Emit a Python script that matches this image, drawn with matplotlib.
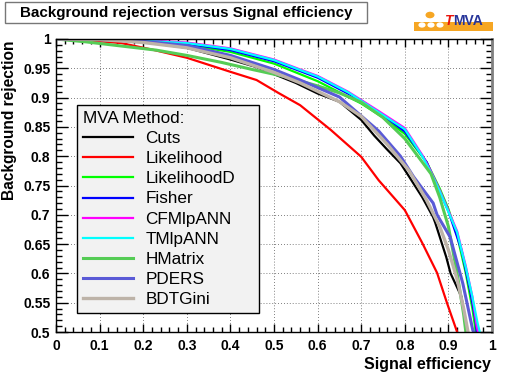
import matplotlib
matplotlib.use('Agg')
from matplotlib import pyplot as plt
from matplotlib.patches import Rectangle, Circle
from matplotlib.ticker import MultipleLocator, FuncFormatter

plt.rcParams['font.family'] = ['Liberation Sans', 'DejaVu Sans']

# signal efficiency / background rejection
cuts_x = [0, 0.1, 0.2, 0.3, 0.4, 0.46, 0.5, 0.55, 0.6, 0.65, 0.7, 0.73, 0.76, 0.79, 0.81, 0.84, 0.865, 0.87, 0.895, 0.905, 0.93, 0.943]
cuts_y = [1, 0.999, 0.995, 0.985, 0.965, 0.952, 0.94, 0.925, 0.907, 0.893, 0.862, 0.835, 0.811, 0.788, 0.765, 0.73, 0.696, 0.686, 0.628, 0.6, 0.56, 0.5]

lik_x = [0, 0.05, 0.15, 0.22, 0.3, 0.4, 0.46, 0.51, 0.56, 0.63, 0.7, 0.74, 0.8, 0.84, 0.874, 0.897, 0.92]
lik_y = [1, 0.999, 0.993, 0.982, 0.968, 0.944, 0.93, 0.908, 0.887, 0.845, 0.799, 0.759, 0.708, 0.652, 0.601, 0.549, 0.5]

likd_x = [0, 0.1, 0.2, 0.3, 0.4, 0.5, 0.6, 0.7, 0.75, 0.8, 0.85, 0.88, 0.9, 0.92, 0.94, 0.955, 0.963]
likd_y = [1, 0.999, 0.996, 0.99, 0.978, 0.958, 0.928, 0.89, 0.866, 0.838, 0.79, 0.745, 0.71, 0.665, 0.6, 0.54, 0.5]

fisher_x = [0, 0.1, 0.2, 0.3, 0.4, 0.5, 0.6, 0.7, 0.75, 0.8, 0.85, 0.9, 0.93, 0.95, 0.962, 0.965]
fisher_y = [1, 1.0, 0.997, 0.992, 0.981, 0.962, 0.934, 0.895, 0.87, 0.842, 0.79, 0.706, 0.64, 0.57, 0.52, 0.5]

cfmlp_x = [0, 0.1, 0.2, 0.3, 0.4, 0.5, 0.56, 0.6, 0.67, 0.74, 0.8, 0.84, 0.86, 0.88, 0.9, 0.92, 0.94, 0.955, 0.965, 0.968]
cfmlp_y = [1, 1.0, 0.998, 0.994, 0.984, 0.965, 0.948, 0.937, 0.91, 0.877, 0.848, 0.802, 0.774, 0.742, 0.707, 0.672, 0.612, 0.56, 0.51, 0.5]

tmlp_x = [0, 0.1, 0.2, 0.3, 0.4, 0.5, 0.56, 0.6, 0.67, 0.74, 0.8, 0.84, 0.86, 0.88, 0.9, 0.92, 0.94, 0.955, 0.967, 0.972]
tmlp_y = [1, 0.999, 0.997, 0.993, 0.983, 0.964, 0.947, 0.936, 0.909, 0.875, 0.846, 0.8, 0.772, 0.74, 0.705, 0.67, 0.61, 0.56, 0.515, 0.5]

hmat_x = [0, 0.07, 0.15, 0.23, 0.3, 0.38, 0.45, 0.53, 0.6, 0.65, 0.7, 0.75, 0.8, 0.84, 0.86, 0.88, 0.9, 0.92, 0.935, 0.94]
hmat_y = [1, 0.995, 0.988, 0.981, 0.972, 0.96, 0.948, 0.935, 0.92, 0.908, 0.892, 0.866, 0.83, 0.79, 0.77, 0.73, 0.68, 0.6, 0.53, 0.5]

pders_x = [0, 0.1, 0.2, 0.3, 0.4, 0.5, 0.56, 0.65, 0.74, 0.79, 0.82, 0.865, 0.874, 0.904, 0.933, 0.956, 0.958]
pders_y = [1, 0.999, 0.996, 0.989, 0.972, 0.948, 0.93, 0.901, 0.843, 0.8, 0.765, 0.72, 0.7, 0.662, 0.583, 0.503, 0.5]

bdt_x = [0, 0.1, 0.2, 0.3, 0.4, 0.5, 0.56, 0.65, 0.7, 0.76, 0.81, 0.85, 0.88, 0.9, 0.92, 0.935, 0.945]
bdt_y = [1, 0.999, 0.994, 0.985, 0.968, 0.943, 0.925, 0.893, 0.868, 0.82, 0.775, 0.725, 0.68, 0.64, 0.59, 0.54, 0.5]

names = ['Cuts', 'Likelihood', 'LikelihoodD', 'Fisher', 'CFMlpANN', 'TMlpANN', 'HMatrix', 'PDERS', 'BDTGini']
xs = [cuts_x, lik_x, likd_x, fisher_x, cfmlp_x, tmlp_x, hmat_x, pders_x, bdt_x]
ys = [cuts_y, lik_y, likd_y, fisher_y, cfmlp_y, tmlp_y, hmat_y, pders_y, bdt_y]
colors = ['#000000', '#ff0000', '#00ff00', '#0000ff', '#ff00ff', '#00ffff', '#55cc55', '#5a5ad6', '#bdb3a8']
widths = [1.6, 1.6, 1.6, 1.6, 1.6, 1.6, 2.2, 2.2, 2.4]

fig = plt.figure(figsize=(5.18, 3.78), dpi=100)
ax = fig.add_axes([56/518, 1-332/378, 436/518, 293/378])

for x, y, n, c, w in zip(xs, ys, names, colors, widths):
    ax.plot(x, y, color=c, lw=w, label=n, solid_joinstyle='miter')

ax.set_xlim(0, 1)
ax.set_ylim(0.5, 1)
ax.xaxis.set_major_locator(MultipleLocator(0.1))
ax.xaxis.set_minor_locator(MultipleLocator(0.02))
ax.yaxis.set_major_locator(MultipleLocator(0.05))
ax.yaxis.set_minor_locator(MultipleLocator(0.01))
fmt = FuncFormatter(lambda v, p: '%g' % round(v, 3))
ax.xaxis.set_major_formatter(fmt)
ax.yaxis.set_major_formatter(fmt)
ax.tick_params(axis='both', which='both', direction='in', top=True, right=True, colors='k')
ax.tick_params(axis='x', which='major', length=6, width=1, pad=5, labelsize=10)
ax.tick_params(axis='x', which='minor', length=3.5, width=1)
ax.tick_params(axis='y', which='major', length=8.5, width=1, pad=4, labelsize=10)
ax.tick_params(axis='y', which='minor', length=4.5, width=1)
for lab in ax.get_xticklabels() + ax.get_yticklabels():
    lab.set_fontweight('bold')
ax.grid(True, which='major', color='#555555', linestyle=(0, (1, 2.5)), lw=0.6)
for s in ['left', 'bottom', 'top']:
    ax.spines[s].set_linewidth(1)
ax.spines['right'].set_color('#808080')
ax.spines['right'].set_linewidth(2)

leg = ax.legend(loc='upper left', bbox_to_anchor=(21/436, 227/293, 182/436, 0), mode='expand', borderaxespad=0,
                title='MVA Method:', alignment='left', fontsize=12.3, title_fontsize=12.3,
                frameon=True, fancybox=False, framealpha=1, facecolor='#f2f2f2', edgecolor='k',
                handlelength=2.95, handletextpad=0.7, labelspacing=0.3, borderpad=0.35)
leg.get_frame().set_linewidth(1)

fig.text(491/518, 1-365/378, 'Signal efficiency', ha='right', va='center', fontsize=11.5, fontweight='bold')
fig.text(10/518, 1-40/378, 'Background rejection', ha='center', va='top', rotation=90, fontsize=11.2, fontweight='bold')

# title box
fig.patches.append(Rectangle((5/518, 1-22.5/378), 362/518, 20.5/378, transform=fig.transFigure,
                             facecolor='white', edgecolor='#777777', lw=1))
fig.text(186/518, 1-12.5/378, 'Background rejection versus Signal efficiency', ha='center', va='center',
         fontsize=10.9, fontweight='bold')

# TMVA logo
fig.patches.append(Rectangle((414/518, 1-31/378), 79/518, 9/378, transform=fig.transFigure,
                             facecolor='#f6a623', edgecolor='none'))
fig.patches.append(Circle((430/518, 1-15/378), 4.5/518, transform=fig.transFigure, facecolor='#f6a623', edgecolor='none'))
for cx in [422, 431, 440]:
    fig.patches.append(Circle((cx/518, 1-25/378), 3.6/518, transform=fig.transFigure, facecolor='white', edgecolor='none'))
fig.text(444/518, 1-21/378, 'T', color='#e8140c', fontsize=10, fontweight='bold', style='italic', va='center', ha='left')
fig.text(453/518, 1-21/378, 'MVA', color='#27359a', fontsize=10, fontweight='bold', va='center', ha='left')

fig.savefig('out.png', dpi=100)
